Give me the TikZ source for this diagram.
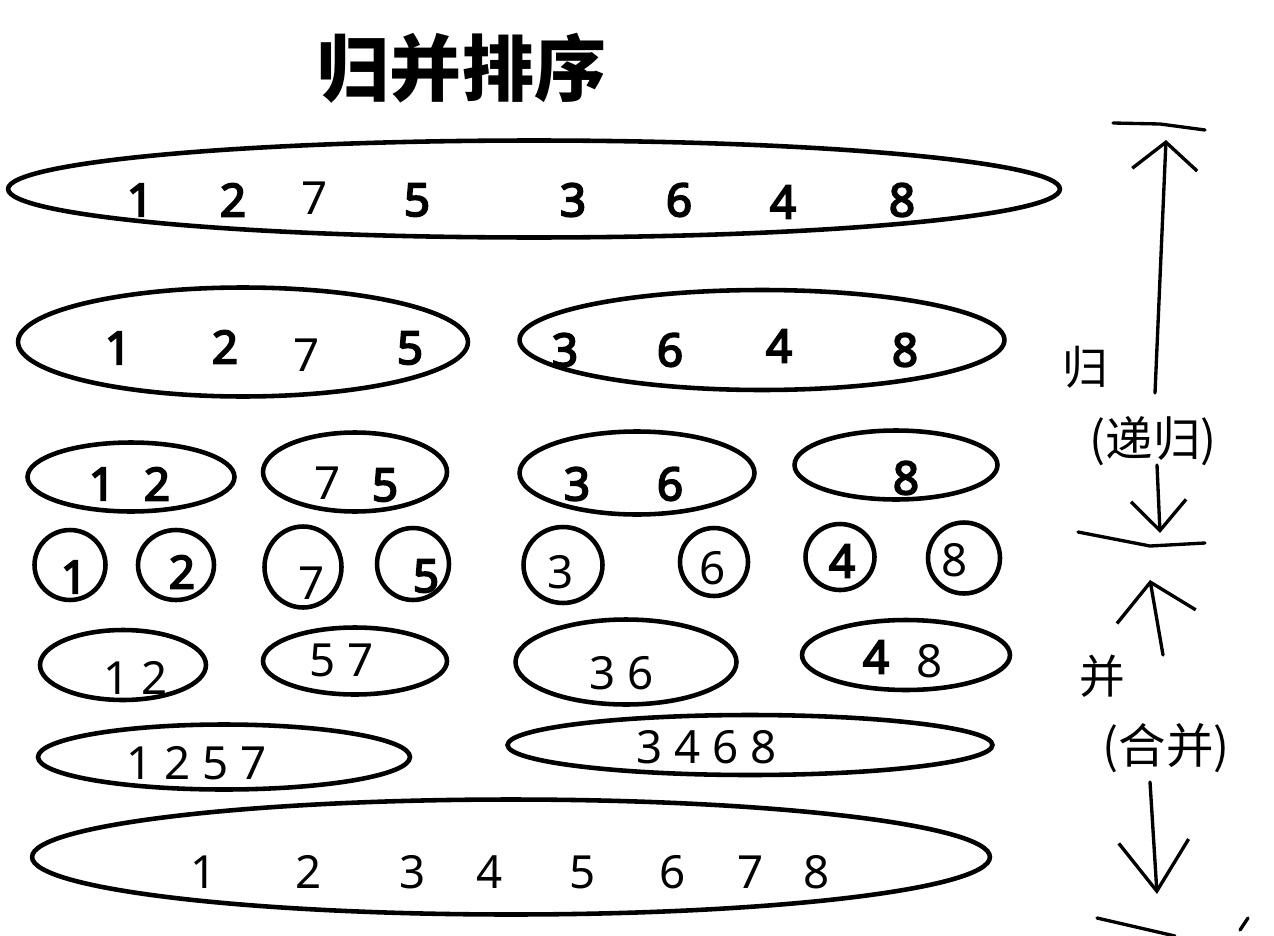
\documentclass[tikz,border=0pt]{standalone}
\usepackage{fontspec}
\setmainfont{Noto Sans}[AutoFakeBold=4]
\newfontfamily\cjk{Noto Sans CJK SC}
\usetikzlibrary{shapes.geometric, arrows.meta}

\tikzset{
  grp/.style={draw, ellipse, line width=2.6pt, inner sep=0pt},
  num/.style={inner sep=0pt, font=\fontsize{26}{26}\selectfont},
  bnum/.style={inner sep=0pt, font=\bfseries\fontsize{26}{26}\selectfont},
  side/.style={inner sep=0pt, font=\cjk\fontsize{26}{26}\selectfont},
  hand/.style={line width=1.9pt, line cap=round}
}

\begin{document}
\begin{tikzpicture}[x=0.02cm, y=-0.02cm]
\useasboundingbox (0,0) rectangle (1274,936);

% title
\node[inner sep=0pt, font=\cjk\bfseries\fontsize{41}{41}\selectfont] (title) at (462,68) {归并排序};

% whole array
\node[grp, minimum width=21.04cm, minimum height=1.94cm] (all) at (534,189) {};
\node[bnum] (a1) at (140,200) {1};
\node[bnum] (a2) at (233,200) {2};
\node[num]  (a3) at (315,198) {7};
\node[bnum] (a4) at (417,200) {5};
\node[bnum] (a5) at (573,200) {3};
\node[bnum] (a6) at (679,200) {6};
\node[bnum] (a7) at (783,202) {4};
\node[bnum] (a8) at (902,200) {8};

% halves
\node[grp, minimum width=9cm, minimum height=2.18cm] (l) at (243,342) {};
\node[bnum] (l1) at (118,348) {1};
\node[bnum] (l2) at (225,347) {2};
\node[num]  (l3) at (307,355) {7};
\node[bnum] (l4) at (410,348) {5};
\node[grp, minimum width=9.7cm, minimum height=2cm] (r) at (762,340) {};
\node[bnum] (r1) at (565,350) {3};
\node[bnum] (r2) at (670,350) {6};
\node[bnum] (r3) at (779,346) {4};
\node[bnum] (r4) at (905,350) {8};

% quarters
\node[grp, minimum width=4.14cm, minimum height=1.38cm] (ll) at (131,477) {};
\node[bnum] (ll1) at (102,484) {1};
\node[bnum] (ll2) at (157,484) {2};
\node[grp, minimum width=3.68cm, minimum height=1.58cm] (lr) at (355,472) {};
\node[num]  (lr1) at (328,483) {7};
\node[bnum] (lr2) at (385,485) {5};
\node[grp, minimum width=4.7cm, minimum height=1.66cm] (rl) at (637,473) {};
\node[bnum] (rl1) at (577,484) {3};
\node[bnum] (rl2) at (670,484) {6};
\node[grp, minimum width=4.06cm, minimum height=1.38cm] (rr) at (896,465) {};
\node[bnum] (rr1) at (906,478) {8};

% single elements
\node[grp, minimum width=1.42cm, minimum height=1.4cm] (c1) at (70,565) {};
\node[bnum] (s1) at (74,577) {1};
\node[grp, minimum width=1.52cm, minimum height=1.4cm] (c2) at (176,565) {};
\node[bnum] (s2) at (182,572) {2};
\node[grp, minimum width=1.54cm, minimum height=1.62cm] (c3) at (303,567) {};
\node[num]  (s3) at (312,583) {7};
\node[grp, minimum width=1.44cm, minimum height=1.44cm] (c4) at (413,564) {};
\node[bnum] (s4) at (426,576) {5};
\node[grp, minimum width=1.58cm, minimum height=1.52cm] (c5) at (563,565) {};
\node[num]  (s5) at (561,572) {3};
\node[grp, minimum width=1.36cm, minimum height=1.36cm] (c6) at (714,562) {};
\node[num]  (s6) at (713,568) {6};
\node[grp, minimum width=1.38cm, minimum height=1.32cm] (c7) at (840,557) {};
\node[bnum] (s7) at (842,561) {4};
\node[grp, minimum width=1.44cm, minimum height=1.42cm] (c8) at (964,558) {};
\node[num]  (s8) at (955,560) {8};

% merged pairs
\node[grp, minimum width=3.32cm, minimum height=1.4cm] (m12) at (123,665) {};
\node[num] (t12) at (136,678) {1 2};
\node[grp, minimum width=3.68cm, minimum height=1.34cm] (m57) at (355,661) {};
\node[num] (t57) at (342,660) {5 7};
\node[grp, minimum width=4.42cm, minimum height=1.7cm] (m36) at (626,662) {};
\node[num] (t36) at (622,673) {3 6};
\node[grp, minimum width=4.16cm, minimum height=1.4cm] (m48) at (906,655) {};
\node[bnum] (t4) at (876,657) {4};
\node[num]  (t8) at (930,661) {8};

% merged quarters
\node[grp, minimum width=7.44cm, minimum height=1.3cm] (m1257) at (224,757) {};
\node[num] (t1257) at (197,763) {1 2 5 7};
\node[grp, minimum width=9.7cm, minimum height=1.2cm] (m3468) at (750,745) {};
\node[num] (t3468) at (707,747) {3 4 6 8};

% sorted
\node[grp, minimum width=19.16cm, minimum height=2.3cm] (sorted) at (511,857) {};
\node[num] (b1) at (204,872) {1};
\node[num] (b2) at (309,872) {2};
\node[num] (b3) at (413,872) {3};
\node[num] (b4) at (490,872) {4};
\node[num] (b5) at (583,872) {5};
\node[num] (b6) at (673,872) {6};
\node[num] (b7) at (751,872) {7};
\node[num] (b8) at (817,872) {8};

% side labels
\node[side] (gui) at (1085,367) {归};
\node[side, font=\cjk\fontsize{27}{27}\selectfont] (digui) at (1153,441) {(递归)};
\node[side] (bing) at (1102,676) {并};
\node[side, font=\cjk\fontsize{27}{27}\selectfont] (hebing) at (1166,748) {(合并)};

% arrow ends
\coordinate (up1s) at (1155,393);
\coordinate (up1e) at (1166,140);
\coordinate (dn1s) at (1157,465);
\coordinate (dn1e) at (1160,533);
\coordinate (up2s) at (1163,655);
\coordinate (up2e) at (1150,580);
\coordinate (dn2s) at (1150,782);
\coordinate (dn2e) at (1157,894);

\draw[hand, -{Straight Barb[length=0.55cm, width=1.3cm]}] (up1s) -- (up1e);
\draw[hand, -{Straight Barb[length=0.6cm, width=1.1cm]}] (dn1s) -- (dn1e);
\draw[hand, -{Straight Barb[length=0.7cm, width=1.6cm]}] (up2s) -- (up2e);
\draw[hand, -{Straight Barb[length=1cm, width=1.4cm]}] (dn2s) -- (dn2e);

% bars
\draw[hand] (1113,123) -- (1160,124) -- (1205,130);
\draw[hand] (1078,532) -- (1150,546) -- (1205,543);
\draw[hand] (1097,918) -- (1175,936);
\draw[hand] (1240,930) -- (1248,918);
\end{tikzpicture}
\end{document}
